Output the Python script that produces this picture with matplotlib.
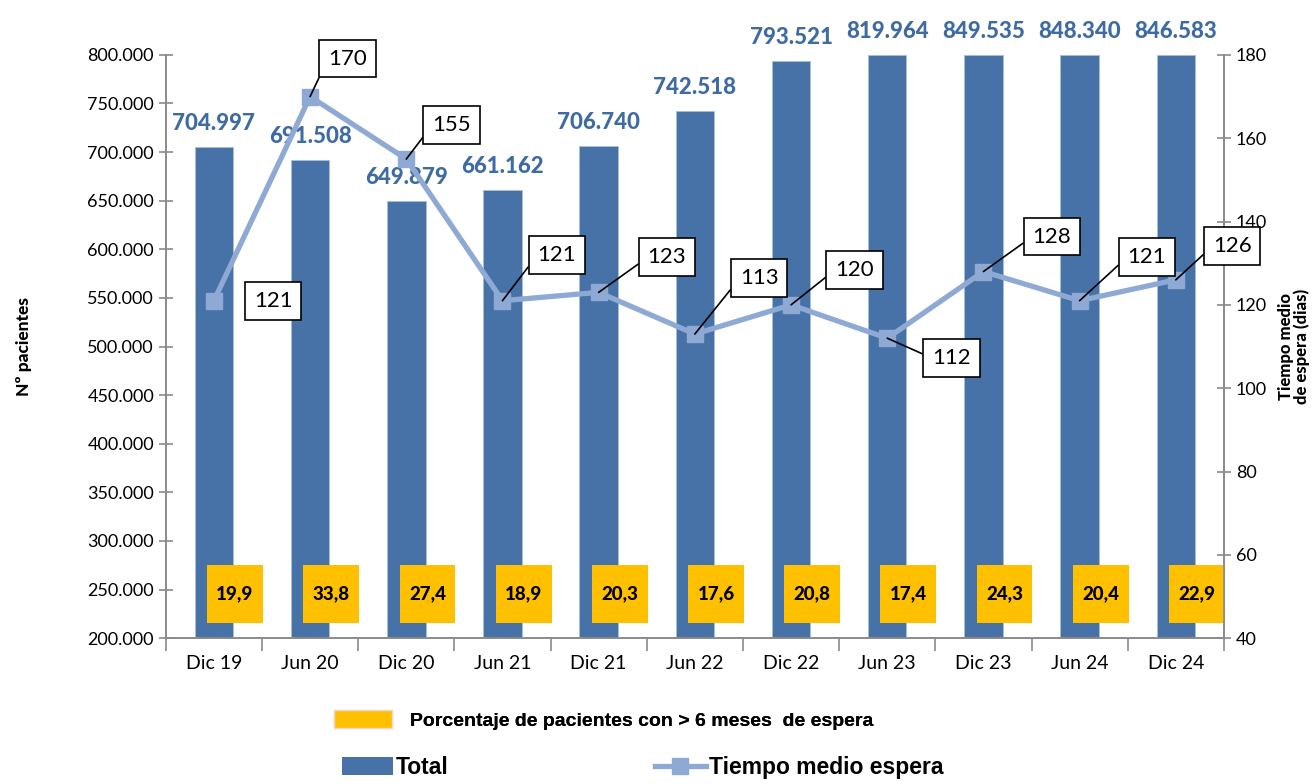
import matplotlib.pyplot as plt
import numpy as np
from matplotlib.patches import Patch, Rectangle
from matplotlib.lines import Line2D
from matplotlib.ticker import FuncFormatter

periodos = ['Dic 19', 'Jun 20', 'Dic 20', 'Jun 21', 'Dic 21', 'Jun 22',
            'Dic 22', 'Jun 23', 'Dic 23', 'Jun 24', 'Dic 24']
total = [704997, 691508, 649879, 661162, 706740, 742518,
         793521, 819964, 849535, 848340, 846583]
tiempo = [121, 170, 155, 121, 123, 113, 120, 112, 128, 121, 126]
porcentaje = [19.9, 33.8, 27.4, 18.9, 20.3, 17.6, 20.8, 17.4, 24.3, 20.4, 22.9]

# desplazamiento (pixeles) de las etiquetas del tiempo medio
desp = [(40, 0), (18, 38), (26, 34), (35, 46), (49, 35), (45, 56),
        (44, 35), (45, -20), (49, 35), (48, 44), (37, 34)]

azul = '#4672A7'
azul_claro = '#8EA9D3'
amarillo = '#FFC000'
texto_azul = '#3F6BA3'
gris = '#8A8A8A'

plt.rcParams['font.family'] = ['Lato', 'DejaVu Sans']

fig = plt.figure(figsize=(13.16, 7.84), dpi=100)
ax = fig.add_axes([0.126, 0.186, 0.804, 0.744])
ax2 = ax.twinx()

x = np.arange(len(periodos))
ymax = 800000
ax.bar(x, [min(v, ymax) for v in total], 0.4, color=azul,
       edgecolor='#A9BEDA', linewidth=0.6, zorder=2)
ax.set_ylim(200000, ymax)
ax.set_xlim(-0.5, len(periodos) - 0.5)

for i, v in enumerate(total):
    etiqueta = f'{v:,}'.replace(',', '.')
    ax.annotate(etiqueta, (x[i], min(v, ymax)), xytext=(0, 13),
                textcoords='offset pixels', ha='center', va='bottom',
                fontsize=16, fontweight='black', color=texto_azul,
                annotation_clip=False, zorder=5)

# cajas amarillas con el porcentaje
for i, p in enumerate(porcentaje):
    cx = x[i] + 0.22
    cy = 245300
    ax.add_patch(Rectangle((cx - 0.29, cy - 29500), 0.58, 59000,
                           facecolor=amarillo, edgecolor='none', zorder=4))
    ax.text(cx, cy, f'{p:.1f}'.replace('.', ','), ha='center', va='center',
            fontsize=13.5, fontweight='black', color='black', zorder=5)

ax2.plot(x, tiempo, color=azul_claro, linewidth=3.8, marker='s',
         markersize=12, markerfacecolor=azul_claro, markeredgecolor=azul_claro,
         zorder=3)
ax2.set_ylim(40, 180)
ax2.set_yticks(range(40, 181, 20))

for i, t in enumerate(tiempo):
    dx, dy = desp[i]
    flecha = None
    if i > 0:
        flecha = dict(arrowstyle='-', color='black', lw=1.2,
                      shrinkA=0, shrinkB=0, relpos=(0, 0.5))
    ax2.annotate(str(t), (x[i], t), xytext=(dx, dy),
                 textcoords='offset pixels', ha='left', va='center',
                 fontsize=16, color='black',
                 bbox=dict(boxstyle='square,pad=0.4', facecolor='white',
                           edgecolor='black', linewidth=1.2),
                 arrowprops=flecha, zorder=6)

ax.yaxis.set_major_formatter(FuncFormatter(lambda v, p: f'{int(v):,}'.replace(',', '.')))
ax.set_yticks(range(200000, 800001, 50000))
ax.set_xticks(x)
ax.set_xticklabels(periodos, fontsize=14)
ax.set_xticks(np.arange(-0.5, len(periodos)), minor=True)
ax.tick_params(axis='x', which='major', length=0, pad=12)
ax.tick_params(axis='x', which='minor', length=9, direction='out', color=gris, width=1.2)
ax.tick_params(axis='y', length=10, direction='inout', color=gris, width=1.2,
               labelsize=13)
ax2.tick_params(axis='y', length=10, direction='inout', color=gris, width=1.2,
                labelsize=13)

for a in (ax, ax2):
    a.spines['top'].set_visible(False)
    for s in ('left', 'right', 'bottom'):
        a.spines[s].set_color(gris)
        a.spines[s].set_linewidth(1.2)

ax.set_ylabel('Nº pacientes', fontsize=12.5, fontweight='black', labelpad=40)
ax2.set_ylabel('Tiempo medio\nde espera (dias)', fontsize=12,
               fontweight='black', labelpad=8, linespacing=0.95)

leg1 = fig.legend(handles=[Patch(facecolor=amarillo, edgecolor='#F2D6D6')],
                  labels=['Porcentaje de pacientes con > 6 meses  de espera'],
                  loc='center', bbox_to_anchor=(0.4586, 0.082), frameon=False,
                  handlelength=3.0, handleheight=1.1, handletextpad=0.9,
                  prop={'family': 'Liberation Sans', 'weight': 'bold', 'size': 14})
fig.add_artist(leg1)
fig.legend(handles=[Patch(facecolor=azul),
                    Line2D([0], [0], color=azul_claro, lw=3.8, marker='s',
                           markersize=12)],
           labels=['Total', 'Tiempo medio espera'], ncol=2,
           loc='center', bbox_to_anchor=(0.4886, 0.021), frameon=False,
           handlelength=2.2, handleheight=0.8, handletextpad=0.15,
           columnspacing=9.0,
           prop={'family': 'Liberation Sans', 'weight': 'bold', 'size': 16.5})

fig.savefig('out.png', dpi=100)
